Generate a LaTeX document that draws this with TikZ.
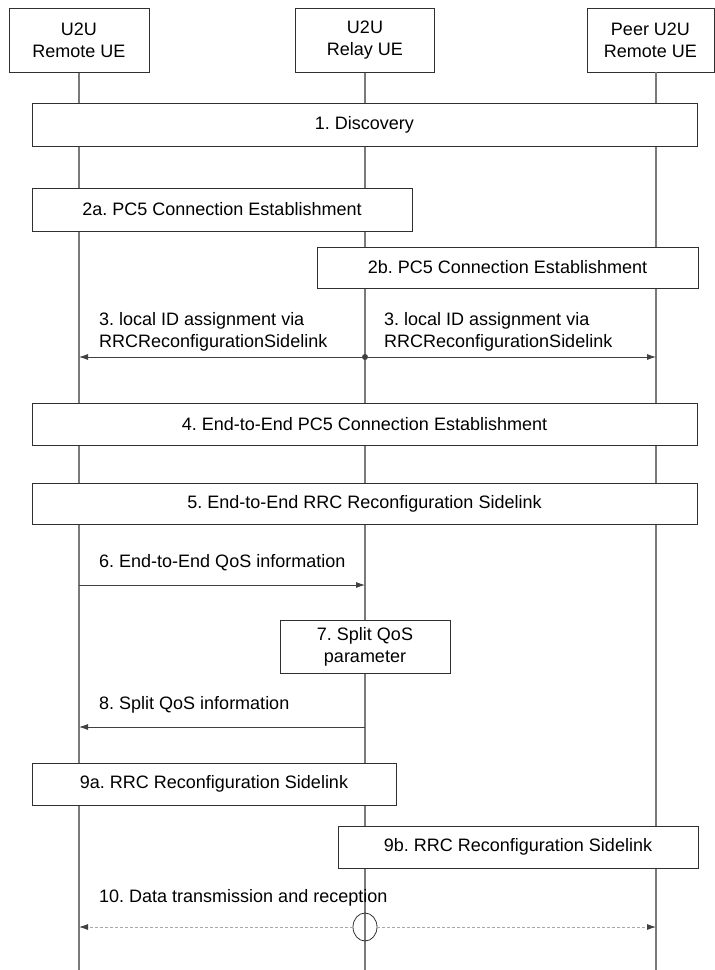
\documentclass[tikz,border=0pt]{standalone}
\usepackage{fontspec}
\setmainfont{Liberation Sans}
\usetikzlibrary{arrows.meta,shapes.geometric}
\definecolor{boxc}{HTML}{303030}
\definecolor{lifec}{HTML}{7A7A7A}
\definecolor{msgc}{HTML}{404040}
\definecolor{dashc}{HTML}{A8A8A8}
\frenchspacing
\begin{document}
\frenchspacing
\begin{tikzpicture}[x=1pt,y=-1pt,
  every node/.style={font=\fontsize{18}{22}\selectfont, inner sep=0pt},
  stepbox/.style={draw=boxc, fill=white, line width=1pt, align=center},
  lifeline/.style={draw=lifec, line width=1.5pt},
  msg/.style={draw=msgc, line width=0.8pt, -{Latex[length=9pt,width=6pt]}},
  datamsg/.style={draw=dashc, line width=0.8pt, dash pattern=on 3pt off 2pt,
     -{Latex[length=9pt,width=6pt,fill=msgc,color=msgc]}},
  lbl/.style={anchor=west, align=left}]
\useasboundingbox (0,0) rectangle (715,970);

% header boxes
\node[stepbox, minimum width=140pt, minimum height=64pt] (h1) at (79,40) {U2U\\Remote UE};
\node[stepbox, minimum width=139pt, minimum height=64pt] (h2) at (365,40) {U2U\\Relay UE};
\node[stepbox, minimum width=127pt, minimum height=64pt] (h3) at (650.5,40) {Peer U2U\\Remote UE};

% lifeline ends
\coordinate (e1) at (79,970);
\coordinate (e2) at (365,970);
\coordinate (e3) at (656,970);
\coordinate (s3) at (656,72);
\draw[lifeline] (h1.south) -- (e1);
\draw[lifeline] (h2.south) -- (e2);
\draw[lifeline] (s3) -- (e3);

% step boxes
\node[stepbox, minimum width=665pt, minimum height=43pt] (b1) at (364.5,124.5) {1. Discovery};
\node[stepbox, minimum width=380pt, minimum height=43pt] (b2a) at (222,209.5) {2a. PC5 Connection Establishment};
\node[stepbox, minimum width=381pt, minimum height=41pt] (b2b) at (507.5,267.5) {2b. PC5 Connection Establishment};
\node[stepbox, minimum width=665pt, minimum height=42pt] (b4) at (364.5,424) {4. End-to-End PC5 Connection Establishment};
\node[stepbox, minimum width=665pt, minimum height=41pt] (b5) at (364.5,503.5) {5. End-to-End RRC Reconfiguration Sidelink};
\node[stepbox, minimum width=170pt, minimum height=53pt] (b7) at (365,646.5) {7. Split QoS\\parameter};
\node[stepbox, minimum width=364pt, minimum height=42pt] (b9a) at (214,784) {9a. RRC Reconfiguration Sidelink};
\node[stepbox, minimum width=360pt, minimum height=42pt] (b9b) at (518,847) {9b. RRC Reconfiguration Sidelink};

% message 3
\coordinate (l3) at (79,357);
\coordinate (p3) at (656,357);
\node[circle, fill=msgc, minimum size=6pt] (r3) at (365,357) {};
\draw[msg] (r3) -- (l3);
\draw[msg] (r3) -- (p3);
\node[lbl] (t3a) at (99,332) {3. local ID assignment via\\RRCReconfigurationSidelink};
\node[lbl] (t3b) at (384,332) {3. local ID assignment via\\RRCReconfigurationSidelink};

% message 6
\coordinate (l6) at (79,585);
\coordinate (r6) at (365,585);
\draw[msg] (l6) -- (r6);
\node[lbl] (t6) at (99,563) {6. End-to-End QoS information};

% message 8
\coordinate (r8) at (365,727);
\coordinate (l8) at (79,727);
\draw[msg] (r8) -- (l8);
\node[lbl] (t8) at (99,705) {8. Split QoS information};

% message 10
\coordinate (l10) at (79,927);
\coordinate (p10) at (656,927);
\node[ellipse, draw=boxc, line width=0.8pt, minimum width=24pt, minimum height=28pt] (c10) at (365,927) {};
\draw[datamsg] (c10.west) -- (l10);
\draw[datamsg] (c10.east) -- (p10);
\node[lbl] (t10) at (99,898) {10. Data transmission and reception};
\end{tikzpicture}
\end{document}
